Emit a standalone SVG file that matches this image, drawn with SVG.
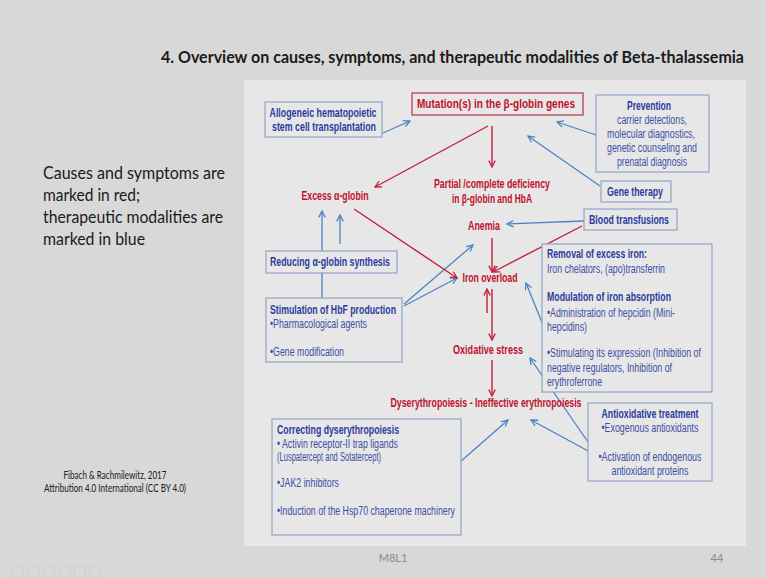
<svg xmlns="http://www.w3.org/2000/svg" width="766" height="578" viewBox="0 0 766 578" font-family="'Liberation Sans', Arial, sans-serif">
<style>
.r{fill:#c0102c;font-weight:bold;font-size:12px}
.bb{fill:#2c3b9e;font-weight:bold;font-size:12px}
.bn{fill:#3d4ea6;font-size:12px}
.box{fill:#e7e7e7;stroke:#8fa6c6;stroke-width:1.2}
.bl{stroke:#4b83c4;stroke-width:1.3;fill:none;marker-end:url(#ab)}
.rl{stroke:#c0203c;stroke-width:1.4;fill:none;marker-end:url(#ar)}
.slide{font-family:Lato,'Open Sans','Liberation Sans',sans-serif;fill:#1a1a1a}
</style>
<defs>
<marker id="ab" viewBox="0 0 10 10" refX="9" refY="5" markerWidth="8" markerHeight="8" markerUnits="userSpaceOnUse" orient="auto"><path d="M1,1 L9,5 L1,9" fill="none" stroke="#4b83c4" stroke-width="1.6"/></marker>
<marker id="ar" viewBox="0 0 10 10" refX="9" refY="5" markerWidth="8" markerHeight="8" markerUnits="userSpaceOnUse" orient="auto"><path d="M1,1 L9,5 L1,9" fill="none" stroke="#c0203c" stroke-width="1.6"/></marker>
</defs>
<rect x="0" y="0" width="766" height="578" fill="#d8d8d8"/>
<rect x="244" y="80" width="502" height="466" fill="#e7e7e7"/>

<text class="slide" x="161" y="63" font-size="17.5" font-weight="bold" textLength="583" lengthAdjust="spacingAndGlyphs">4. Overview on causes, symptoms, and therapeutic modalities of Beta-thalassemia</text>

<g id="legend" class="slide" font-size="17">
<text x="43" y="179" textLength="182" lengthAdjust="spacingAndGlyphs">Causes and symptoms are</text>
<text x="43" y="201" textLength="97" lengthAdjust="spacingAndGlyphs">marked in red;</text>
<text x="43" y="223" textLength="180" lengthAdjust="spacingAndGlyphs">therapeutic modalities are</text>
<text x="43" y="245" textLength="102" lengthAdjust="spacingAndGlyphs">marked in blue</text>
</g>
<g id="citation" class="slide" font-size="10.5" text-anchor="middle">
<text x="115" y="479" textLength="103" lengthAdjust="spacingAndGlyphs">Fibach &amp; Rachmilewitz, 2017</text>
<text x="115" y="492" textLength="142" lengthAdjust="spacingAndGlyphs">Attribution 4.0 International (CC BY 4.0)</text>
</g>
<text x="393" y="562" font-size="11" fill="#8a8a8a" text-anchor="middle" font-family="Lato,'Liberation Sans',sans-serif">M8L1</text>
<text x="717" y="562" font-size="11" fill="#8a8a8a" text-anchor="middle" font-family="Lato,'Liberation Sans',sans-serif">44</text>
<g id="nav" fill="none" stroke="#cbcbcb" stroke-width="0.9">
<circle cx="18" cy="572" r="6"/><circle cx="34" cy="572" r="6"/><circle cx="49" cy="572" r="6"/><circle cx="65" cy="572" r="6"/><circle cx="80" cy="572" r="6"/><circle cx="95" cy="572" r="6"/>
</g>

<g id="connectors">
<line class="bl" x1="383" y1="133" x2="410" y2="121"/>
<line class="bl" x1="596" y1="135" x2="557" y2="122"/>
<line class="bl" x1="600" y1="186" x2="528" y2="136"/>
<line class="bl" x1="584" y1="221" x2="507" y2="224"/>
<line class="bl" x1="340" y1="244" x2="340" y2="215"/>
<line class="bl" x1="322" y1="298" x2="322" y2="211"/>
<line class="bl" x1="404" y1="304" x2="473" y2="245"/>
<line class="bl" x1="404" y1="306" x2="457" y2="278"/>
<line class="bl" x1="543" y1="325" x2="526" y2="283"/>
<line class="bl" x1="588" y1="442" x2="530" y2="358"/>
<line class="bl" x1="590" y1="452" x2="531" y2="420"/>
<line class="bl" x1="460" y1="462" x2="508" y2="420"/>
<line class="rl" x1="488" y1="126" x2="375" y2="187"/>
<line class="rl" x1="492" y1="126" x2="492" y2="167"/>
<line class="rl" x1="582" y1="226" x2="493" y2="272"/>
<line class="rl" x1="492" y1="238" x2="492" y2="272"/>
<line class="rl" x1="354" y1="209" x2="457" y2="278"/>
<line class="rl" x1="487" y1="313" x2="487" y2="289"/>
<line class="rl" x1="492" y1="289" x2="492" y2="340"/>
<line class="rl" x1="492" y1="360" x2="492" y2="396"/>
</g>

<g id="mutation">
<rect x="412" y="93" width="171" height="22" fill="#e7e7e7" stroke="#b03444" stroke-width="1.2"/>
<text class="r" x="496" y="108" text-anchor="middle" textLength="158" lengthAdjust="spacingAndGlyphs">Mutation(s) in the β-globin genes</text>
</g>
<g id="allogeneic">
<rect class="box" x="265" y="102" width="117" height="35"/>
<text class="bb" x="323" y="117" text-anchor="middle" textLength="107" lengthAdjust="spacingAndGlyphs">Allogeneic hematopoietic</text>
<text class="bb" x="324" y="131" text-anchor="middle" textLength="104" lengthAdjust="spacingAndGlyphs">stem cell transplantation</text>
</g>
<g id="prevention">
<rect class="box" x="596" y="95" width="113" height="77"/>
<text class="bb" x="649" y="110" text-anchor="middle" textLength="44" lengthAdjust="spacingAndGlyphs">Prevention</text>
<text class="bn" x="652" y="124" text-anchor="middle" textLength="70" lengthAdjust="spacingAndGlyphs">carrier detections,</text>
<text class="bn" x="651" y="138" text-anchor="middle" textLength="88" lengthAdjust="spacingAndGlyphs">molecular  diagnostics,</text>
<text class="bn" x="652" y="152" text-anchor="middle" textLength="90" lengthAdjust="spacingAndGlyphs">genetic counseling and</text>
<text class="bn" x="652" y="166" text-anchor="middle" textLength="70" lengthAdjust="spacingAndGlyphs">prenatal diagnosis</text>
</g>
<g id="gene-therapy">
<rect class="box" x="601" y="181" width="70" height="21"/>
<text class="bb" x="635" y="196" text-anchor="middle" textLength="56" lengthAdjust="spacingAndGlyphs">Gene therapy</text>
</g>
<g id="deficiency">
<text class="r" x="492" y="188" text-anchor="middle" textLength="116" lengthAdjust="spacingAndGlyphs">Partial /complete deficiency</text>
<text class="r" x="492" y="203" text-anchor="middle" textLength="80" lengthAdjust="spacingAndGlyphs">in β-globin and HbA</text>
</g>
<g id="excess">
<text class="r" x="335" y="200" text-anchor="middle" textLength="67" lengthAdjust="spacingAndGlyphs">Excess α-globin</text>
</g>
<g id="anemia">
<text class="r" x="484" y="230" text-anchor="middle" textLength="32" lengthAdjust="spacingAndGlyphs">Anemia</text>
</g>
<g id="blood">
<rect class="box" x="584" y="209" width="93" height="21"/>
<text class="bb" x="629" y="224" text-anchor="middle" textLength="80" lengthAdjust="spacingAndGlyphs">Blood transfusions</text>
</g>
<g id="removal">
<rect class="box" x="542" y="244" width="170" height="148"/>
<text class="bb" x="547" y="258" textLength="100" lengthAdjust="spacingAndGlyphs">Removal of excess iron:</text>
<text class="bn" x="547" y="273" textLength="118" lengthAdjust="spacingAndGlyphs">Iron chelators, (apo)transferrin</text>
<text class="bb" x="547" y="301" textLength="124" lengthAdjust="spacingAndGlyphs">Modulation of iron absorption</text>
<text class="bn" x="547" y="317" textLength="128" lengthAdjust="spacingAndGlyphs">•Administration of hepcidin (Mini-</text>
<text class="bn" x="547" y="331" textLength="40" lengthAdjust="spacingAndGlyphs">hepcidins)</text>
<text class="bn" x="547" y="357" textLength="154" lengthAdjust="spacingAndGlyphs">•Stimulating its expression (Inhibition of</text>
<text class="bn" x="547" y="372" textLength="125" lengthAdjust="spacingAndGlyphs">negative regulators, Inhibition of</text>
<text class="bn" x="547" y="386" textLength="55" lengthAdjust="spacingAndGlyphs">erythroferrone</text>
</g>
<g id="reducing">
<rect class="box" x="266" y="251" width="131" height="22"/>
<text class="bb" x="330" y="266" text-anchor="middle" textLength="120" lengthAdjust="spacingAndGlyphs">Reducing α-globin synthesis</text>
</g>
<g id="iron-overload">
<text class="r" x="490" y="282" text-anchor="middle" textLength="55" lengthAdjust="spacingAndGlyphs">Iron overload</text>
</g>
<g id="stimulation">
<rect class="box" x="266" y="298" width="136" height="64"/>
<text class="bb" x="270" y="314" textLength="126" lengthAdjust="spacingAndGlyphs">Stimulation of HbF production</text>
<text class="bn" x="270" y="328" textLength="97" lengthAdjust="spacingAndGlyphs">•Pharmacological agents</text>
<text class="bn" x="270" y="356" textLength="74" lengthAdjust="spacingAndGlyphs">•Gene modification</text>
</g>
<g id="oxidative">
<text class="r" x="488" y="354" text-anchor="middle" textLength="70" lengthAdjust="spacingAndGlyphs">Oxidative stress</text>
</g>
<g id="dyserythropoiesis">
<text class="r" x="486" y="407" text-anchor="middle" textLength="191" lengthAdjust="spacingAndGlyphs">Dyserythropoiesis - Ineffective erythropoiesis</text>
</g>
<g id="antioxidative">
<rect class="box" x="588" y="403" width="124" height="78"/>
<text class="bb" x="650" y="418" text-anchor="middle" textLength="97" lengthAdjust="spacingAndGlyphs">Antioxidative treatment</text>
<text class="bn" x="650" y="432" text-anchor="middle" textLength="97" lengthAdjust="spacingAndGlyphs">•Exogenous antioxidants</text>
<text class="bn" x="650" y="461" text-anchor="middle" textLength="103" lengthAdjust="spacingAndGlyphs">•Activation of endogenous</text>
<text class="bn" x="650" y="475" text-anchor="middle" textLength="77" lengthAdjust="spacingAndGlyphs">antioxidant proteins</text>
</g>
<g id="correcting">
<rect class="box" x="272" y="419" width="189" height="116"/>
<text class="bb" x="277" y="434" font-size="11.5" textLength="122" lengthAdjust="spacingAndGlyphs">Correcting dyserythropoiesis</text>
<text class="bn" x="277" y="448" font-size="11.5" textLength="121" lengthAdjust="spacingAndGlyphs">• Activin receptor-II trap ligands</text>
<text class="bn" x="277" y="461" font-size="9" textLength="104" lengthAdjust="spacingAndGlyphs">(Luspatercept and Sotatercept)</text>
<text class="bn" x="277" y="487" textLength="62" lengthAdjust="spacingAndGlyphs">•JAK2 inhibitors</text>
<text class="bn" x="277" y="515" textLength="178" lengthAdjust="spacingAndGlyphs">•Induction of the Hsp70 chaperone machinery</text>
</g>
</svg>
